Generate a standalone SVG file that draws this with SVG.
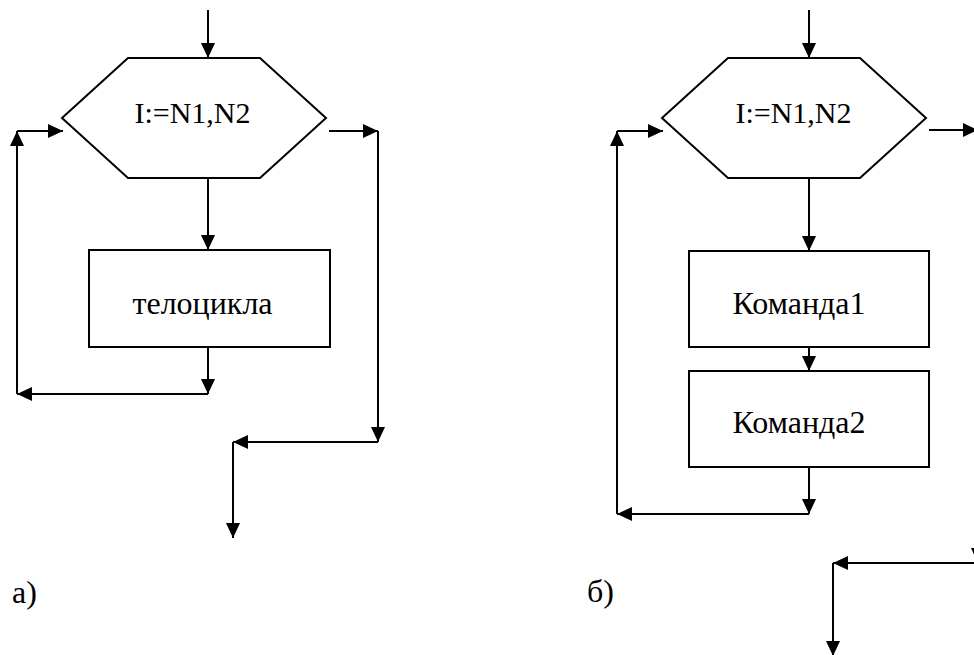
<svg xmlns="http://www.w3.org/2000/svg" width="974" height="655" viewBox="0 0 974 655">
  <defs>
    <marker id="arrow" markerUnits="userSpaceOnUse" markerWidth="15" markerHeight="14" refX="15" refY="7" orient="auto" overflow="visible">
      <path d="M0,0 L15,7 L0,14 z" fill="#000"/>
    </marker>
  </defs>
  <style>
    .shape { fill: #fff; stroke: #000; stroke-width: 2; }
    .edge { fill: none; stroke: #000; stroke-width: 2; marker-end: url(#arrow); }
    text { font-family: "Liberation Serif", "Times New Roman", serif; fill: #000; }
    .hex-text { font-size: 30px; text-anchor: middle; }
    .box-text { font-size: 32px; text-anchor: middle; }
    .caption { font-size: 32px; }
  </style>
  <rect width="974" height="655" fill="#fff"/>

  <!-- Variant a: loop with a single body block -->
  <g id="a-loop-header">
    <polygon class="shape" points="62,118 128,58 260,58 326,118 260,178 128,178"/>
    <text class="hex-text" x="192.5" y="123">I:=N1,N2</text>
  </g>
  <g id="a-body">
    <rect class="shape" x="89" y="250" width="241" height="97"/>
    <text class="box-text" x="202.5" y="314">телоцикла</text>
  </g>
  <g id="a-caption">
    <text class="caption" x="12" y="603">а)</text>
  </g>

  <!-- Variant b: loop with two command blocks -->
  <g id="b-loop-header">
    <polygon class="shape" points="662,118 728,58 860,58 926,118 860,178 728,178"/>
    <text class="hex-text" x="793.5" y="123">I:=N1,N2</text>
  </g>
  <g id="b-command1">
    <rect class="shape" x="689" y="251" width="240" height="96"/>
    <text class="box-text" x="799" y="314">Команда1</text>
  </g>
  <g id="b-command2">
    <rect class="shape" x="689" y="371" width="240" height="96"/>
    <text class="box-text" x="799" y="433">Команда2</text>
  </g>
  <g id="b-caption">
    <text class="caption" x="587" y="602">б)</text>
  </g>

  <g id="connectors">
    <!-- a: entry, body, back edge -->
    <path class="edge" d="M208,10 V58"/>
    <path class="edge" d="M208,178 V250"/>
    <path class="edge" d="M208,347 V394"/>
    <path class="edge" d="M208,394 H17"/>
    <path class="edge" d="M17,394 V131"/>
    <path class="edge" d="M17,131 H63"/>
    <!-- a: exit -->
    <path class="edge" d="M329,131 H378"/>
    <path class="edge" d="M378,131 V442"/>
    <path class="edge" d="M378,442 H233"/>
    <path class="edge" d="M233,442 V538"/>

    <!-- b: entry, commands, back edge -->
    <path class="edge" d="M809,10 V58"/>
    <path class="edge" d="M809,178 V251"/>
    <path class="edge" d="M809,347 V371"/>
    <path class="edge" d="M809,467 V514"/>
    <path class="edge" d="M809,514 H617"/>
    <path class="edge" d="M617,514 V131"/>
    <path class="edge" d="M617,131 H663"/>
    <!-- b: exit, runs past the right edge -->
    <path class="edge" d="M929,130 H978"/>
    <path class="edge" d="M978,130 V563"/>
    <path class="edge" d="M978,563 H833"/>
    <path class="edge" d="M833,563 V656"/>
  </g>
</svg>
